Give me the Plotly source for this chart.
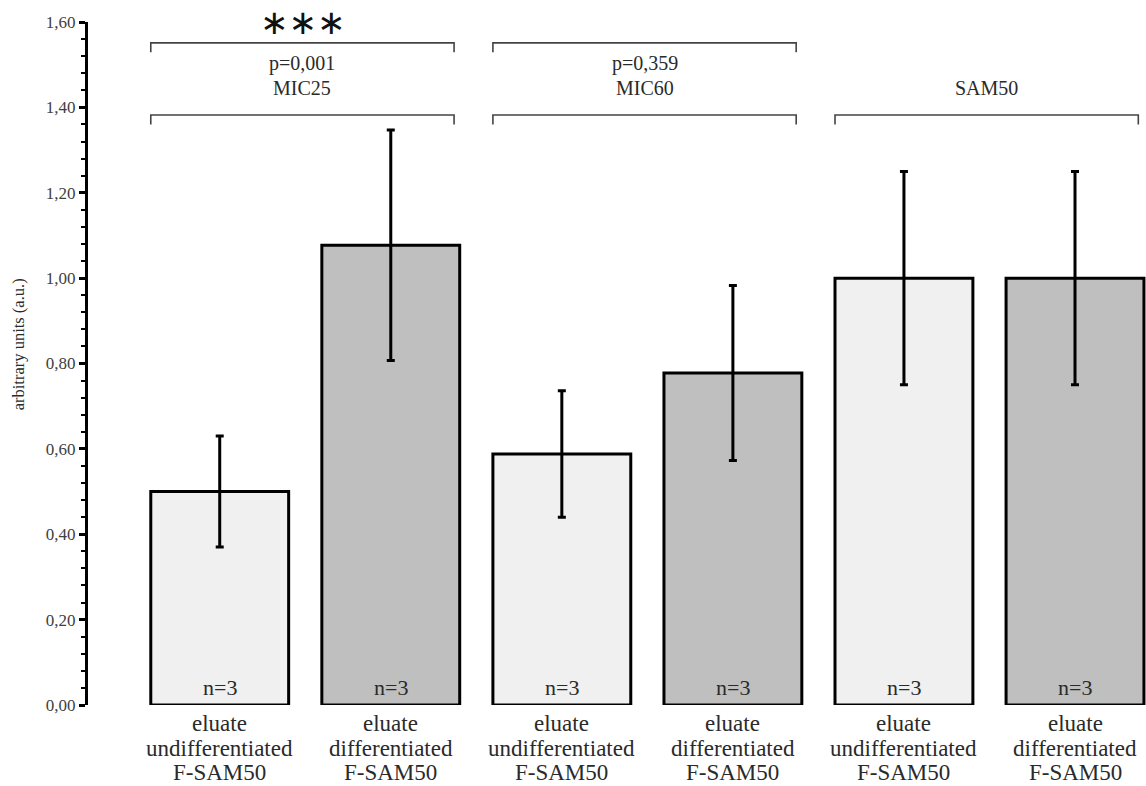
import plotly.graph_objects as go

line1 = ["eluate", "eluate", "eluate", "eluate", "eluate", "eluate"]
line2 = ["undifferentiated", "differentiated", "undifferentiated",
         "differentiated", "undifferentiated", "differentiated"]
line3 = ["F-SAM50", "F-SAM50", "F-SAM50", "F-SAM50", "F-SAM50", "F-SAM50"]
means = [0.50, 1.077, 0.588, 0.778, 1.00, 1.00]
errors = [0.13, 0.27, 0.148, 0.205, 0.25, 0.25]
n_labels = ["n=3", "n=3", "n=3", "n=3", "n=3", "n=3"]
bar_colors = ["#f0f0f0", "#bfbfbf", "#f0f0f0", "#bfbfbf", "#f0f0f0", "#bfbfbf"]
groups = ["MIC25", "MIC60", "SAM50"]
p_values = ["p=0,001", "p=0,359"]
significance = ["∗∗∗", ""]
y_ticks = [0, 0.2, 0.4, 0.6, 0.8, 1.0, 1.2, 1.4, 1.6]
y_title = "arbitrary units (a.u.)"

SERIF = "Liberation Serif"
TXT = "#2a2a2a"
x = list(range(len(means)))

fig = go.Figure()
fig.add_trace(go.Bar(
    x=x, y=means, width=0.806,
    marker=dict(color=bar_colors, line=dict(color="black", width=3)),
    error_y=dict(type="data", array=errors, visible=True, color="black",
                 thickness=3, width=4),
    showlegend=False, hoverinfo="skip",
))

# n labels inside bars
for xi, lab in zip(x, n_labels):
    fig.add_annotation(x=xi, y=0, yref="y", text=lab, showarrow=False,
                       yanchor="bottom", yshift=3,
                       font=dict(family=SERIF, size=22, color=TXT))

# category labels (three tight lines, positioned in paper coords below the axis)
bottom_paper = -81 / 683
for xi in x:
    fig.add_annotation(x=xi, xref="x", y=-0.0278, yref="paper", text=line1[xi],
                       showarrow=False, yanchor="middle", borderpad=0,
                       font=dict(family=SERIF, size=23, color=TXT))
    fig.add_annotation(x=xi, xref="x", y=-0.063, yref="paper", text=line2[xi],
                       showarrow=False, yanchor="middle", borderpad=0,
                       font=dict(family=SERIF, size=23, color=TXT))
    fig.add_annotation(x=xi, xref="x", y=bottom_paper, yref="paper", text=line3[xi],
                       showarrow=False, yanchor="bottom", borderpad=0,
                       font=dict(family=SERIF, size=23, color=TXT))

def bracket(x0, x1, y, drop):
    fig.add_shape(type="path",
                  path=f"M {x0},{y - drop} L {x0},{y} L {x1},{y} L {x1},{y - drop}",
                  xref="x", yref="y", line=dict(color="#444444", width=1.6))

top_y = 1.551
low_y = 1.382
drop = 0.022
for gi, g in enumerate(groups):
    xl = 2 * gi - 0.403
    xr = 2 * gi + 1.37
    bracket(xl, xr, low_y, drop)
    fig.add_annotation(x=(xl + xr) / 2, y=1.445, text=g, showarrow=False,
                       yanchor="middle",
                       font=dict(family=SERIF, size=20, color=TXT))
    if gi < len(p_values):
        bracket(xl, xr, top_y, drop)
        fig.add_annotation(x=(xl + xr) / 2, y=1.5035, text=p_values[gi], showarrow=False,
                           yanchor="middle",
                           font=dict(family=SERIF, size=20, color=TXT))
        if significance[gi]:
            fig.add_annotation(x=(xl + xr) / 2, xref="x", y=1, yref="paper",
                               text=significance[gi], showarrow=False,
                               yanchor="middle", yshift=0,
                               font=dict(family="DejaVu Sans", size=34, color="#111111"))

# y-axis title
fig.add_annotation(xref="paper", x=0, xshift=-70, yref="y", y=0.845,
                   text=y_title, textangle=-90, showarrow=False,
                   xanchor="center", yanchor="middle",
                   font=dict(family=SERIF, size=16.5, color=TXT))

fig.update_layout(
    width=1146, height=786,
    margin=dict(l=88, r=0, t=22, b=81),
    plot_bgcolor="white", paper_bgcolor="white",
    separators=", ",
)
fig.update_xaxes(
    range=[-0.77, 5.415], showticklabels=False,
    showline=False, showgrid=False, zeroline=False, ticks="",
)
fig.update_yaxes(
    range=[0, 1.6], tickmode="array", tickvals=y_ticks,
    tickformat=".2f",
    showline=True, linecolor="black", linewidth=3,
    ticks="outside", ticklen=6, tickwidth=3, tickcolor="black",
    minor=dict(tickmode="array",
               tickvals=[i * 0.04 for i in range(41)],
               ticks="outside", ticklen=4, tickwidth=2, tickcolor="black"),
    showgrid=False, zeroline=False,
    tickfont=dict(family=SERIF, size=17, color="#404040"),
)
fig.write_html("out.html")
